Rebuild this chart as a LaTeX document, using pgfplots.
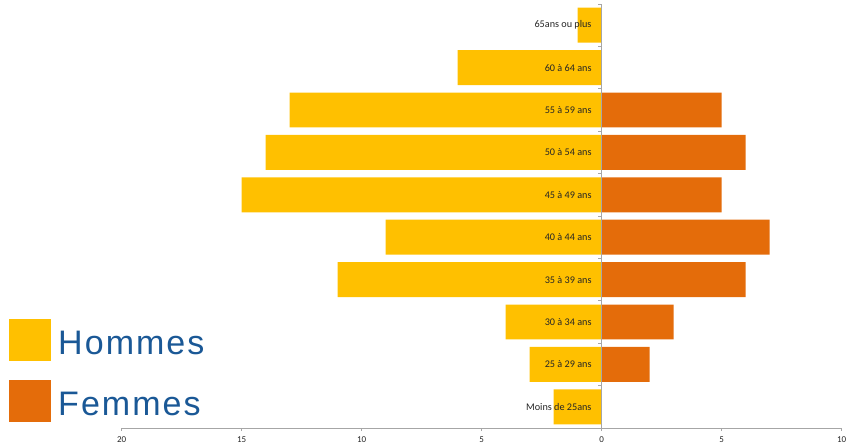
\documentclass[border=0pt]{standalone}
\usepackage{pgfplots}
\pgfplotsset{compat=1.18}
\usepackage{fontspec}
\setmainfont{Carlito}
\newfontfamily\legfont[LetterSpace=6]{Liberation Sans}
\definecolor{hom}{HTML}{FFC000}
\definecolor{fem}{HTML}{E46C0A}
\definecolor{axgray}{HTML}{A6A6A6}
\definecolor{legblue}{RGB}{26,88,150}
\definecolor{txt}{HTML}{262626}
\begin{document}
\begin{tikzpicture}
\path[use as bounding box] (-121.7pt,-17pt) rectangle (725.3pt,428pt);
\begin{axis}[
  at={(0,0)}, anchor=south west,
  scale only axis, width=720pt, height=424pt,
  xmin=-20, xmax=10, ymin=-0.5, ymax=9.5,
  xbar, bar width=0.825,
  axis on top,
  axis x line=bottom, axis y line=middle,
  axis line style={axgray, line width=0.8pt, -},
  xtick={-20,-15,...,10}, xticklabels={20,15,10,5,0,5,10},
  ytick={0,...,9},
  yticklabels={Moins de 25ans, 25 à 29 ans, 30 à 34 ans, 35 à 39 ans, 40 à 44 ans, 45 à 49 ans, 50 à 54 ans, 55 à 59 ans, 60 à 64 ans, 65ans ou plus},
  tick style={axgray, line width=0.8pt},
  major tick length=3pt, tick align=outside,
  ytick style={draw=none},
  xticklabel style={font=\fontsize{9}{10}\selectfont, text=txt, yshift=-2pt},
  yticklabel style={font=\fontsize{10.2}{12}\selectfont, text=txt, anchor=east, inner sep=0pt, xshift=-7pt},
  legend style={at={(axis description cs:-0.1565,0.0144)}, anchor=south west, draw=none, fill=none,
    font=\legfont\fontsize{34}{40}\selectfont, text=legblue, row sep=19pt, inner sep=0pt,
    nodes={inner sep=0pt}, /tikz/every odd column/.append style={column sep=7pt}},
  legend cell align=left,
  legend image code/.code={\fill[#1] (0pt,-17pt) rectangle (42pt,25pt);},
]
\addplot[fill=hom, draw=none, bar shift=0pt] coordinates {(-2,0) (-3,1) (-4,2) (-11,3) (-9,4) (-15,5) (-14,6) (-13,7) (-6,8) (-1,9)};
\addplot[fill=fem, draw=none, bar shift=0pt] coordinates {(2,1) (3,2) (6,3) (7,4) (5,5) (6,6) (5,7)};
\legend{Hommes, Femmes}
\pgfplotsinvokeforeach{-0.5,0.5,1.5,2.5,3.5,4.5,5.5,6.5,7.5,8.5,9.5}{
  \draw[axgray, line width=0.8pt] (axis cs:0,#1) -- ([xshift=-4pt]axis cs:0,#1);
}
\end{axis}
\end{tikzpicture}
\end{document}
